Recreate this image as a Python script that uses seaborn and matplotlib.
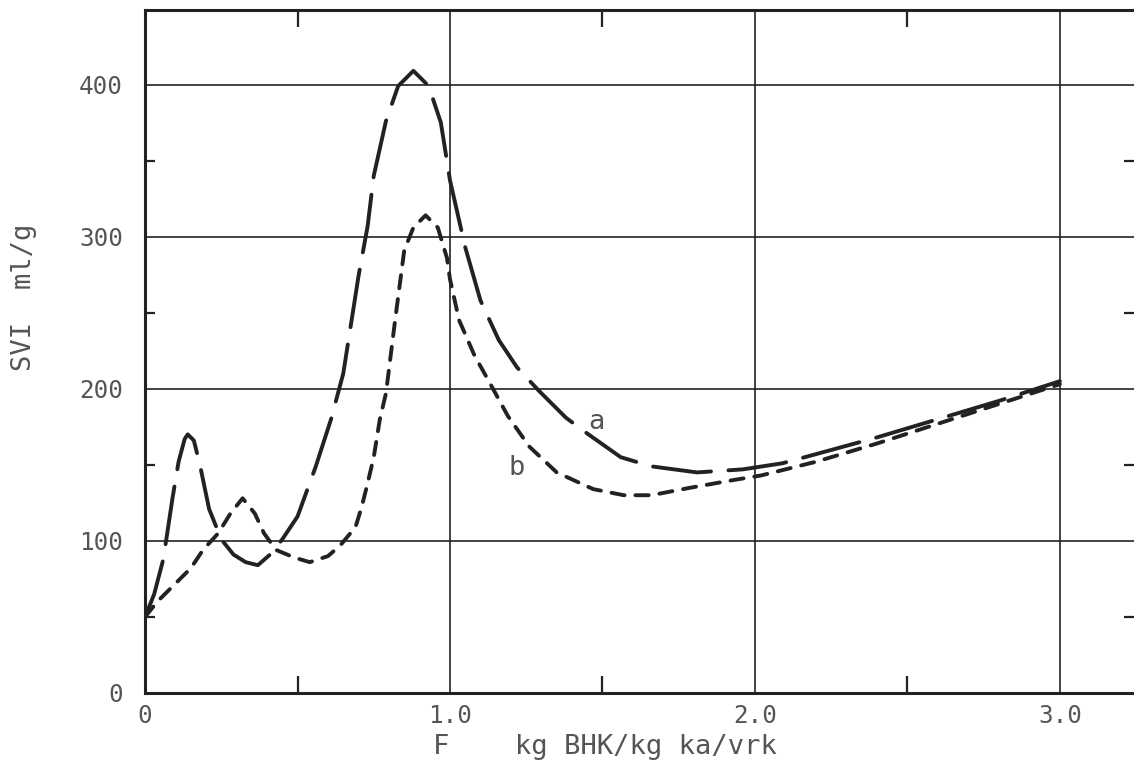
import pandas as pd
import matplotlib.pyplot as plt
import seaborn as sns
from matplotlib.ticker import FixedLocator

# Curve a (long dashes)
a_x = [0.0, 0.03, 0.06, 0.09, 0.11, 0.13, 0.14, 0.16, 0.18, 0.21, 0.25, 0.29, 0.33, 0.37,
       0.41, 0.45, 0.50, 0.56, 0.61, 0.65, 0.70, 0.73, 0.75, 0.79, 0.83, 0.88,
       0.93, 0.97, 1.00, 1.05, 1.10, 1.16, 1.22, 1.29, 1.38, 1.44, 1.56, 1.66,
       1.81, 1.96, 2.09, 2.2, 2.4, 2.6, 2.8, 3.0]
a_y = [50, 65, 88, 128, 152, 167, 170, 166, 150, 121, 101, 91, 86, 84,
       91, 101, 116, 149, 180, 210, 274, 307, 340, 376, 399, 409,
       399, 375, 337, 293, 258, 232, 214, 199, 181, 172, 155, 149,
       145, 147, 151, 157, 168, 180, 192, 205]

# Curve b (short dashes)
b_x = [0.0, 0.04, 0.08, 0.15, 0.19, 0.24, 0.28, 0.32, 0.36, 0.39, 0.43, 0.49,
       0.54, 0.60, 0.64, 0.69, 0.71, 0.73, 0.75, 0.77, 0.79, 0.82, 0.85, 0.88,
       0.92, 0.96, 0.99, 1.00, 1.03, 1.08, 1.13, 1.19, 1.26, 1.35, 1.47, 1.57,
       1.66, 1.79, 1.93, 2.02, 2.2, 2.4, 2.6, 2.8, 3.0]
b_y = [50, 60, 68, 82, 94, 105, 118, 128, 118, 105, 94, 89,
       86, 90, 97, 109, 122, 138, 155, 180, 197, 245, 291, 306,
       314, 306, 286, 272, 245, 222, 204, 182, 162, 145, 134, 130,
       130, 135, 140, 143, 152, 164, 177, 190, 203]

x_ticks = [0, 1.0, 2.0, 3.0]
x_labels = ["0", "1.0", "2.0", "3.0"]
y_ticks = [0, 100, 200, 300, 400]

df_a = pd.DataFrame({"F": a_x, "SVI": a_y})
df_b = pd.DataFrame({"F": b_x, "SVI": b_y})

sns.set_style("white")
plt.rcParams["font.family"] = ["DejaVu Sans Mono"]

fig = plt.figure(figsize=(11.34, 7.67), dpi=100)
ax = fig.add_axes([0.1279, 0.0965, 0.8721, 0.8905])

ink = "#222222"
txt = "#555555"
sns.lineplot(data=df_a, x="F", y="SVI", ax=ax, color=ink, lw=2.8,
             linestyle=(0, (15, 4.5)), dash_capstyle="round", sort=False)
sns.lineplot(data=df_b, x="F", y="SVI", ax=ax, color=ink, lw=2.8,
             linestyle=(0, (3.4, 2.8)), dash_capstyle="round", sort=False)

ax.set_xlim(0, 3.243)
ax.set_ylim(0, 449)

# grid
for xv in [1.0, 2.0, 3.0]:
    ax.axvline(xv, color=ink, lw=1.2, zorder=0)
for yv in [100, 200, 300, 400]:
    ax.axhline(yv, color=ink, lw=1.2, zorder=0)

ax.set_xticks(x_ticks)
ax.set_xticklabels(x_labels)
ax.set_yticks(y_ticks)
ax.xaxis.set_minor_locator(FixedLocator([0.5, 1.5, 2.5]))
ax.yaxis.set_minor_locator(FixedLocator([50, 150, 250, 350]))
ax.tick_params(which="major", length=0, labelsize=17.5, labelcolor=txt)
ax.tick_params(axis="y", which="major", pad=16)
ax.tick_params(axis="x", which="major", pad=8)
ax.tick_params(axis="x", which="minor", direction="in", length=12, width=1.6,
               top=True, bottom=True, color=ink)
ax.tick_params(axis="y", which="minor", direction="in", length=7, width=1.6,
               left=True, right=True, color=ink)

for side in ["left", "bottom", "top"]:
    ax.spines[side].set_linewidth(2.2)
    ax.spines[side].set_color(ink)
ax.spines["right"].set_visible(False)

ax.set_ylabel("SVI  ml/g", fontsize=19.5, color=txt)
ax.yaxis.set_label_coords(-0.109, 0.58)
ax.set_xlabel("F    kg BHK/kg ka/vrk", fontsize=19.5, color=txt)
ax.xaxis.set_label_coords(0.465, -0.060)

ax.text(1.48, 178, "a", fontsize=19.5, color=txt, ha="center", va="center")
ax.text(1.22, 148, "b", fontsize=19.5, color=txt, ha="center", va="center")

fig.savefig("out.png", dpi=100)
